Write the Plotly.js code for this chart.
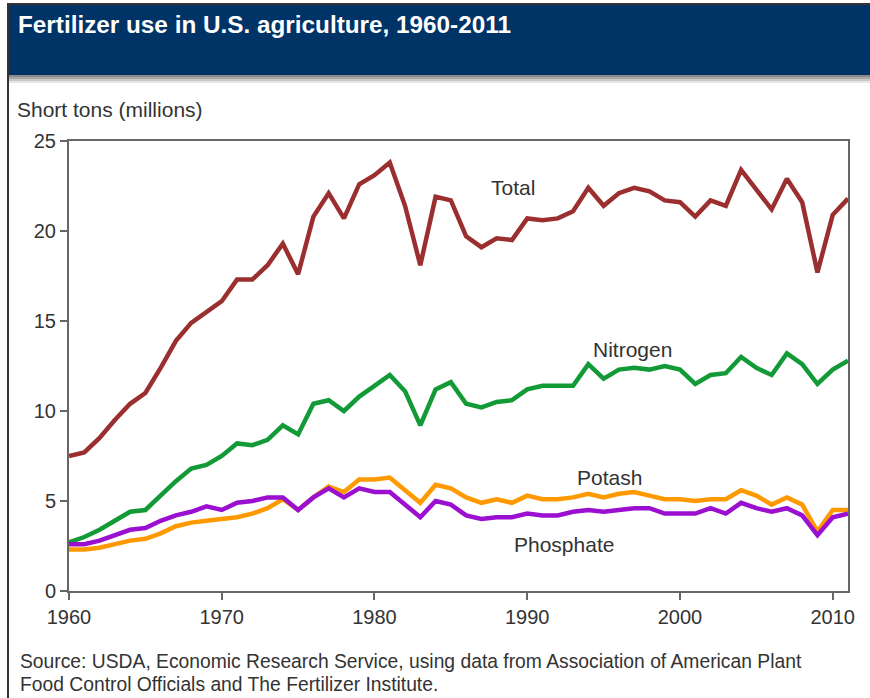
<!DOCTYPE html>
<html>
<head>
<meta charset="utf-8">
<script src="https://cdn.plot.ly/plotly-3.0.1.min.js"></script>
<style>
  html, body { margin: 0; padding: 0; background: #fff; }
  #chart { width: 870px; height: 698px; }
</style>
</head>
<body>
<div id="chart"></div>
<script>
// values, millions of short tons
const years = [1960, 1961, 1962, 1963, 1964, 1965, 1966, 1967, 1968, 1969,
  1970, 1971, 1972, 1973, 1974, 1975, 1976, 1977, 1978, 1979,
  1980, 1981, 1982, 1983, 1984, 1985, 1986, 1987, 1988, 1989,
  1990, 1991, 1992, 1993, 1994, 1995, 1996, 1997, 1998, 1999,
  2000, 2001, 2002, 2003, 2004, 2005, 2006, 2007, 2008, 2009,
  2010, 2011];
const total = [7.5, 7.7, 8.5, 9.5, 10.4, 11.0, 12.4, 13.9, 14.9, 15.5,
  16.1, 17.3, 17.3, 18.1, 19.3, 17.6, 20.8, 22.1, 20.7, 22.6,
  23.1, 23.8, 21.4, 18.1, 21.9, 21.7, 19.7, 19.1, 19.6, 19.5,
  20.7, 20.6, 20.7, 21.1, 22.4, 21.4, 22.1, 22.4, 22.2, 21.7,
  21.6, 20.8, 21.7, 21.4, 23.4, 22.3, 21.2, 22.9, 21.6, 17.7,
  20.9, 21.8];
const nitrogen = [2.7, 3.0, 3.4, 3.9, 4.4, 4.5, 5.3, 6.1, 6.8, 7.0,
  7.5, 8.2, 8.1, 8.4, 9.2, 8.7, 10.4, 10.6, 10.0, 10.8,
  11.4, 12.0, 11.1, 9.2, 11.2, 11.6, 10.4, 10.2, 10.5, 10.6,
  11.2, 11.4, 11.4, 11.4, 12.6, 11.8, 12.3, 12.4, 12.3, 12.5,
  12.3, 11.5, 12.0, 12.1, 13.0, 12.4, 12.0, 13.2, 12.6, 11.5,
  12.3, 12.8];
const potash = [2.3, 2.3, 2.4, 2.6, 2.8, 2.9, 3.2, 3.6, 3.8, 3.9,
  4.0, 4.1, 4.3, 4.6, 5.1, 4.5, 5.2, 5.8, 5.5, 6.2,
  6.2, 6.3, 5.6, 4.9, 5.9, 5.7, 5.2, 4.9, 5.1, 4.9,
  5.3, 5.1, 5.1, 5.2, 5.4, 5.2, 5.4, 5.5, 5.3, 5.1,
  5.1, 5.0, 5.1, 5.1, 5.6, 5.3, 4.8, 5.2, 4.8, 3.3,
  4.5, 4.5];
const phosphate = [2.6, 2.6, 2.8, 3.1, 3.4, 3.5, 3.9, 4.2, 4.4, 4.7,
  4.5, 4.9, 5.0, 5.2, 5.2, 4.5, 5.2, 5.7, 5.2, 5.7,
  5.5, 5.5, 4.8, 4.1, 5.0, 4.8, 4.2, 4.0, 4.1, 4.1,
  4.3, 4.2, 4.2, 4.4, 4.5, 4.4, 4.5, 4.6, 4.6, 4.3,
  4.3, 4.3, 4.6, 4.3, 4.9, 4.6, 4.4, 4.6, 4.2, 3.1,
  4.1, 4.3];
const xTicks = [1960, 1970, 1980, 1990, 2000, 2010];
const yTicks = [0, 5, 10, 15, 20, 25];

// plot box in page pixels, used to place things outside it
const L = 69, R = 848, T = 141, B = 591;
const px = x => (x - L) / (R - L);
const py = y => (B - y) / (B - T);

const font = 'Arial, "Liberation Sans", sans-serif';
const ink = '#333333';

function line(y, color) {
  return {
    x: years, y: y, type: 'scatter', mode: 'lines',
    line: { color: color, width: 4.5 },
    hoverinfo: 'skip'
  };
}

const data = [
  line(total, '#9b2f2f'),
  line(nitrogen, '#129a37'),
  line(potash, '#ff9900'),
  line(phosphate, '#9a0fd0')
];

function rect(x0, y0, x1, y1, color) {
  return {
    type: 'rect', xref: 'paper', yref: 'paper', layer: 'below',
    x0: px(x0), x1: px(x1), y0: py(y0), y1: py(y1),
    fillcolor: color, line: { width: 0 }
  };
}

const shapes = [
  rect(8, 4, 870, 75, '#003366'),
  rect(8, 75, 870, 77, '#8a8a8a'),
  rect(8, 77, 870, 79, '#a8a8a8'),
  rect(8, 79, 870, 81, '#c8c8c8'),
  rect(8, 81, 870, 83, '#e6e6e6'),
  // outer frame, left and top
  { type: 'line', xref: 'paper', yref: 'paper', x0: px(8), x1: px(8), y0: py(3), y1: py(698),
    line: { color: '#333', width: 2 } },
  { type: 'line', xref: 'paper', yref: 'paper', x0: px(8), x1: px(870), y0: py(4), y1: py(4),
    line: { color: '#333', width: 2 } }
];

function label(text, x, y) {
  return { text: text, x: x, y: y, xref: 'x', yref: 'y', showarrow: false,
    font: { family: font, size: 21, color: ink } };
}

function pageText(text, x, y, opts) {
  return Object.assign({
    text: text, xref: 'paper', yref: 'paper', x: px(x), y: py(y),
    xanchor: 'left', yanchor: 'middle', showarrow: false,
    font: { family: font, size: 19.3, color: ink }
  }, opts || {});
}

const annotations = [
  label('Total', 1989.1, 22.4),
  label('Nitrogen', 1996.9, 13.4),
  label('Potash', 1995.4, 6.3),
  label('Phosphate', 1992.4, 2.6),
  pageText('<b>Fertilizer use in U.S. agriculture, 1960-2011</b>', 16, 25,
    { font: { family: font, size: 24.3, color: '#ffffff' } }),
  pageText('Short tons (millions)', 15, 110, { font: { family: font, size: 21, color: ink } }),
  pageText('Source: USDA, Economic Research Service, using data from Association of American Plant', 18, 661),
  pageText('Food Control Officials and The Fertilizer Institute.', 18, 684)
];

const axisCommon = {
  showgrid: false, zeroline: false, showline: true, mirror: true,
  linecolor: '#666', linewidth: 2,
  ticks: 'outside', ticklen: 7, tickwidth: 2, tickcolor: '#666',
  tickfont: { family: font, size: 20, color: ink },
  fixedrange: true
};

const layout = {
  width: 870, height: 698,
  margin: { l: L, r: 870 - R, t: T, b: 698 - B, pad: 0 },
  paper_bgcolor: '#ffffff', plot_bgcolor: '#ffffff',
  showlegend: false,
  xaxis: Object.assign({}, axisCommon, { range: [1960, 2011], tickvals: xTicks }),
  yaxis: Object.assign({}, axisCommon, { range: [0, 25], tickvals: yTicks }),
  shapes: shapes,
  annotations: annotations
};

Plotly.newPlot('chart', data, layout, { displayModeBar: false, staticPlot: true });
</script>
</body>
</html>
